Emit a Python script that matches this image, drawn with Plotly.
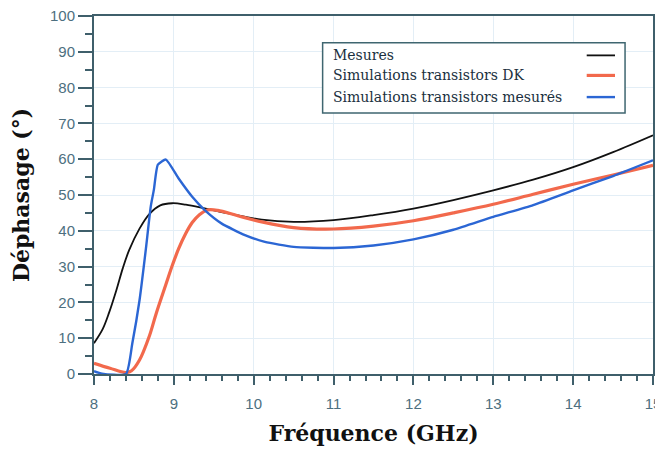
import plotly.graph_objects as go

# ---- data ----
mes_x = [8.0, 8.11, 8.19, 8.28, 8.36, 8.44, 8.57, 8.69, 8.83, 8.98, 9.15, 9.4, 9.7, 10.1, 10.5, 11.0, 11.5, 12.0, 12.5, 13.0, 13.5, 14.0, 14.5, 15.0]
mes_y = [8.6, 12.6, 17.2, 23.4, 29.5, 34.6, 40.6, 44.6, 47.1, 47.7, 47.3, 46.2, 44.8, 43.1, 42.5, 43.0, 44.4, 46.2, 48.6, 51.3, 54.3, 57.8, 62.0, 66.7]

dk_x = [8.0, 8.2, 8.4, 8.47, 8.57, 8.69, 8.78, 8.9, 8.98, 9.06, 9.15, 9.23, 9.32, 9.42, 9.55, 9.8, 10.1, 10.5, 11.0, 11.5, 12.0, 12.5, 13.0, 13.5, 14.0, 14.5, 15.0]
dk_y = [3.0, 1.6, 0.4, 0.9, 3.9, 10.4, 17.0, 25.0, 30.3, 35.0, 39.3, 42.3, 44.5, 45.8, 45.7, 44.2, 42.5, 40.9, 40.5, 41.3, 42.8, 45.0, 47.4, 50.2, 53.0, 55.6, 58.3]

tm_x = [8.0, 8.1, 8.4, 8.48, 8.57, 8.65, 8.71, 8.75, 8.8, 8.9, 9.06, 9.23, 9.39, 9.6, 9.89, 10.14, 10.5, 11.0, 11.5, 12.0, 12.5, 13.0, 13.5, 14.0, 14.5, 15.0]
tm_y = [0.8, 0.1, 0.0, 8.6, 20.6, 35.0, 46.7, 51.5, 58.5, 59.9, 54.6, 49.5, 45.7, 42.0, 38.8, 36.9, 35.5, 35.2, 35.9, 37.6, 40.3, 43.9, 47.2, 51.3, 55.3, 59.7]

series_names = ["Mesures", "Simulations transistors DK", "Simulations transistors mesurés"]
series_colors = ["#111111", "#f2694c", "#2b66d4"]
series_widths = [1.8, 3.2, 2.4]
series_smoothing = [1.0, 1.0, 0.5]

x_ticks = [8, 9, 10, 11, 12, 13, 14, 15]
y_ticks = [0, 10, 20, 30, 40, 50, 60, 70, 80, 90, 100]

AXIS = "#3f5f6b"
TICKFONT = dict(family="Liberation Sans, Arial, sans-serif", size=15, color="#4d6f80")
GRID = "#e3eef6"

fig = go.Figure()
data = [(mes_x, mes_y), (dk_x, dk_y), (tm_x, tm_y)]
for (xs, ys), name, col, w, sm in zip(data, series_names, series_colors, series_widths, series_smoothing):
    fig.add_trace(go.Scatter(x=xs, y=ys, mode="lines", name=name,
                             line=dict(color=col, width=w, shape="spline", smoothing=sm),
                             showlegend=False))

# custom legend (text left, line sample right), in paper coordinates
fig.add_shape(type="rect", xref="paper", yref="paper", x0=0.409, x1=0.950, y0=0.729, y1=0.925,
              line=dict(color="#3f6670", width=1.5), fillcolor="white", layer="above")
rows = [0.890, 0.834, 0.7735]
for name, col, w, yy in zip(series_names, series_colors, series_widths, rows):
    fig.add_annotation(x=0.4234, y=yy, xref="paper", yref="paper", text=name, showarrow=False,
                       xanchor="left", yanchor="middle",
                       font=dict(family="DejaVu Serif, serif", size=14, color="#1a3040"))
    fig.add_shape(type="line", xref="paper", yref="paper", x0=0.8814, x1=0.932, y0=yy, y1=yy,
                  line=dict(color=col, width=w), layer="above")

fig.update_xaxes(range=[8, 15], tickvals=x_ticks, showgrid=True, gridcolor=GRID, gridwidth=1,
                 showline=True, linecolor=AXIS, linewidth=2, mirror=True, automargin=False,
                 ticks="outside", ticklen=9, tickwidth=2, tickcolor=AXIS, ticklabeloverflow="allow",
                 minor=dict(dtick=0.2, ticks="outside", ticklen=5, tickwidth=1.5, tickcolor=AXIS, showgrid=False),
                 tickfont=TICKFONT, ticklabelstandoff=6, zeroline=False,
                 title=dict(text="Fréquence (GHz)", standoff=15,
                            font=dict(family="DejaVu Serif, serif", size=22, color="#111111", weight="bold")))
fig.update_yaxes(range=[0, 100], tickvals=y_ticks, showgrid=True, gridcolor=GRID, gridwidth=1,
                 showline=True, linecolor=AXIS, linewidth=2, mirror=True, automargin=False,
                 ticks="outside", ticklen=14, tickwidth=2, tickcolor=AXIS, ticklabeloverflow="allow",
                 minor=dict(dtick=5, ticks="outside", ticklen=7, tickwidth=1.5, tickcolor=AXIS, showgrid=False),
                 tickfont=TICKFONT, zeroline=False,
                 title=dict(text="Déphasage (°)", standoff=15,
                            font=dict(family="DejaVu Serif, serif", size=22, color="#111111", weight="bold")))

# page body adds an 8px offset; margins compensate so the plot area lands where the reference has it
fig.update_layout(width=655, height=442, margin=dict(l=86, r=10, t=8, b=76),
                  paper_bgcolor="white", plot_bgcolor="white")

fig.write_html("out.html")
